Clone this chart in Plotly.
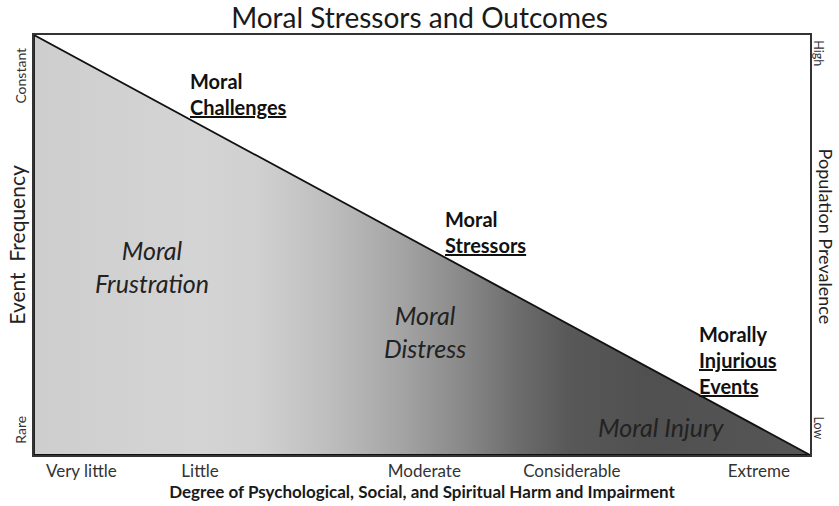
import plotly.graph_objects as go

# ---- data ----
harm_levels = ["Very little", "Little", "Moderate", "Considerable", "Extreme"]
harm_positions = [0.061, 0.214, 0.503, 0.693, 0.934]
freq_labels = ["Rare", "Constant"]
freq_positions = [0.055, 0.898]
prev_labels = ["Low", "High"]
prev_positions = [0.06, 0.952]

# triangle: harm (x) vs frequency (y)
tri_x = [0, 0, 1, 0]
tri_y = [1, 0, 0, 1]

# gradient of shading along the harm axis
grad_stops = [0.0, 0.21, 0.29, 0.38, 0.47, 0.55, 0.625, 0.69, 0.79, 1.0]
grad_grays = [206, 212, 208, 190, 165, 138, 108, 88, 80, 86]

stressor_labels = ["Moral<br><u>Challenges</u>", "Moral<br><u>Stressors</u>",
                   "Morally<br><u>Injurious</u><br><u>Events</u>"]
stressor_x = [0.198, 0.527, 0.854]
stressor_y = [0.86, 0.532, 0.227]

outcome_labels = ["Moral<br>Frustration", "Moral<br>Distress", "Moral Injury"]
outcome_x = [0.152, 0.504, 0.809]
outcome_y = [0.449, 0.294, 0.067]

FONT = "Lato"

colorscale = [[s, f"rgb({g},{g},{g})"] for s, g in zip(grad_stops, grad_grays)]

fig = go.Figure()
fig.add_trace(go.Scatter(
    x=tri_x, y=tri_y, mode="lines", fill="toself",
    line=dict(color="#111111", width=1.8),
    fillgradient=dict(type="horizontal", colorscale=colorscale),
    hoverinfo="skip", showlegend=False))
# invisible trace for the right axis
fig.add_trace(go.Scatter(x=[0, 1], y=[0, 1], yaxis="y2", mode="markers",
                         marker=dict(opacity=0), hoverinfo="skip", showlegend=False))

for t, x, y in zip(stressor_labels, stressor_x, stressor_y):
    fig.add_annotation(x=x, y=y, xref="x", yref="y", text=f"<b>{t}</b>",
                       showarrow=False, align="left", xanchor="left", yanchor="middle",
                       font=dict(family=FONT, size=20, color="#111111"))
for t, x, y in zip(outcome_labels, outcome_x, outcome_y):
    fig.add_annotation(x=x, y=y, xref="x", yref="y", text=f"<i>{t}</i>",
                       showarrow=False, align="center", xanchor="center", yanchor="middle",
                       font=dict(family=FONT, size=25, color="#222222"))

fig.add_annotation(x=-0.0235, y=0.5, xref="paper", yref="paper", text="Event  Frequency",
                   textangle=-90, showarrow=False, xanchor="center", yanchor="middle",
                   font=dict(family=FONT, size=21, color="#222222"))
fig.add_annotation(x=1.0206, y=0.52, xref="paper", yref="paper", text="Population Prevalence",
                   textangle=90, showarrow=False, xanchor="center", yanchor="middle",
                   font=dict(family=FONT, size=18, color="#222222"))

fig.update_layout(
    width=839, height=506,
    margin=dict(l=34, r=29, t=35, b=51, autoexpand=False),
    paper_bgcolor="white", plot_bgcolor="white",
    title=dict(text="Moral Stressors and Outcomes", x=0.5, xanchor="center",
               y=0.964, yanchor="middle",
               font=dict(family=FONT, size=28, color="#1a1a1a")),
    xaxis=dict(range=[0, 1], tickvals=harm_positions, ticktext=harm_levels,
               showgrid=False, zeroline=False, showline=True, mirror=True,
               linecolor="#333333", linewidth=2, ticks="", ticklabelstandoff=0,
               automargin=False,
               tickfont=dict(family=FONT, size=17, color="#333333"),
               title=dict(text="<b>Degree of Psychological, Social, and Spiritual Harm and Impairment</b>",
                          font=dict(family=FONT, size=17, color="#1a1a1a"), standoff=6)),
    yaxis=dict(range=[0, 1], tickvals=freq_positions, ticktext=freq_labels,
               showgrid=False, zeroline=False, showline=True, mirror=True,
               linecolor="#333333", linewidth=2, ticks="", tickangle=-90,
               automargin=False,
               tickfont=dict(family=FONT, size=14, color="#333333")),
    yaxis2=dict(range=[0, 1], overlaying="y", side="right",
                tickvals=prev_positions, ticktext=prev_labels,
                showgrid=False, zeroline=False, showline=False, ticks="", tickangle=90,
                automargin=False,
                tickfont=dict(family=FONT, size=12.5, color="#333333")),
)

fig.write_html("out.html", config={"displayModeBar": False},
               post_script="document.body.style.margin='0';")
